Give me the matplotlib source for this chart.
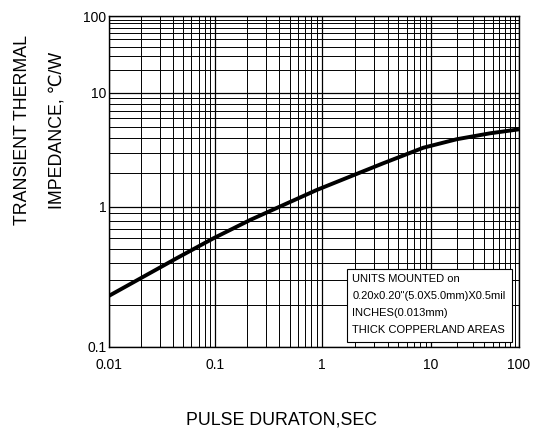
import numpy as np
import matplotlib
matplotlib.use('Agg')
import matplotlib.pyplot as plt
from matplotlib import font_manager
from matplotlib.patches import Rectangle
from matplotlib.ticker import FixedLocator, NullFormatter

# curve
pulse_sec = [0.01, 0.0436, 0.0964, 0.213, 0.436, 0.898, 1.82, 3.66, 8.5, 19.6, 46.8, 100]
z_thermal = [0.232, 0.431, 0.597, 0.807, 1.04, 1.41, 1.85, 2.42, 3.31, 3.93, 4.43, 4.8]

xticks = [0.01, 0.1, 1, 10, 100]
xticklabels = ['0.01', '0.1', '1', '10', '100']
yticks = [0.1, 1, 10, 100]
yticklabels = ['0.1', '1', '10', '100']

note_lines = ['UNITS MOUNTED on',
              '0.20x0.20"(5.0X5.0mm)X0.5mil',
              'INCHES(0.013mm)',
              'THICK COPPERLAND AREAS']

# the original chart's decades are not evenly spaced, so use a piecewise log scale
x_knot_pos = [0, 106, 212.7, 322, 410]
y_knot_pos = [0, 140, 254, 331]


def PiecewiseLog(vals, pos):
    lv = np.log10(vals)

    def fwd(v):
        v = np.clip(np.asarray(v, dtype=float), 1e-9, None)
        return np.interp(np.log10(v), lv, pos)

    def inv(p):
        return 10 ** np.interp(np.asarray(p, dtype=float), pos, lv)
    return fwd, inv


names = {f.name for f in font_manager.fontManager.ttflist}
if 'Liberation Sans Narrow' in names:
    label_font = 'Liberation Sans Narrow'
    label_size = 15
    label_spacing = 2.0
else:
    label_font = 'Liberation Sans'
    label_size = 12.8
    label_spacing = 2.35
plt.rcParams['font.family'] = ['Liberation Sans', 'DejaVu Sans']

fig = plt.figure(figsize=(5.49, 4.34), dpi=100)
ax = fig.add_axes([109/549, 1 - 347/434, 410/549, 331/434])

ax.set_xscale('function', functions=PiecewiseLog(xticks, x_knot_pos))
ax.set_yscale('function', functions=PiecewiseLog(yticks, y_knot_pos))
ax.set_xlim(0.01, 100)
ax.set_ylim(0.1, 100)

x_minor = [m * 10.0**e for e in range(-2, 2) for m in range(2, 10)]
y_minor = [m * 10.0**e for e in range(-1, 2) for m in range(2, 10)]
ax.set_xticks(xticks, labels=xticklabels)
ax.set_yticks(yticks, labels=yticklabels)
ax.xaxis.set_minor_locator(FixedLocator(x_minor))
ax.yaxis.set_minor_locator(FixedLocator(y_minor))
ax.xaxis.set_minor_formatter(NullFormatter())
ax.yaxis.set_minor_formatter(NullFormatter())
ax.tick_params(which='both', length=0, labelsize=10)
ax.tick_params(axis='x', pad=8)
ax.tick_params(axis='y', pad=2)

ax.grid(which='major', color='black', linewidth=0.9)
ax.grid(which='minor', color='black', linewidth=0.7)
for sp in ax.spines.values():
    sp.set_linewidth(1.0)
    sp.set_color('black')

ax.plot(pulse_sec, z_thermal, color='black', linewidth=2.8, zorder=4,
        solid_capstyle='butt')

# note box
ax.add_patch(Rectangle((0.580, 0.016), 0.402, 0.219, transform=ax.transAxes,
                       facecolor='white', edgecolor='black', linewidth=0.8,
                       zorder=5))
for i, line in enumerate(note_lines):
    ax.text(0.593, 0.2045 - i * 0.0514, line, transform=ax.transAxes,
            fontsize=8, ha='left', va='center', zorder=6)

fig.text(40/549, 1 - 130/434, 'TRANSIENT THERMAL\nIMPEDANCE, \u2103/W',
         rotation=90, ha='center', va='center', multialignment='center',
         fontsize=label_size, linespacing=label_spacing,
         family=[label_font, 'DejaVu Sans'])
fig.text(281/549, 1 - 420/434, 'PULSE DURATON,SEC', ha='center', va='center',
         fontsize=label_size, family=[label_font, 'DejaVu Sans'])

fig.savefig('out.png', dpi=100)
